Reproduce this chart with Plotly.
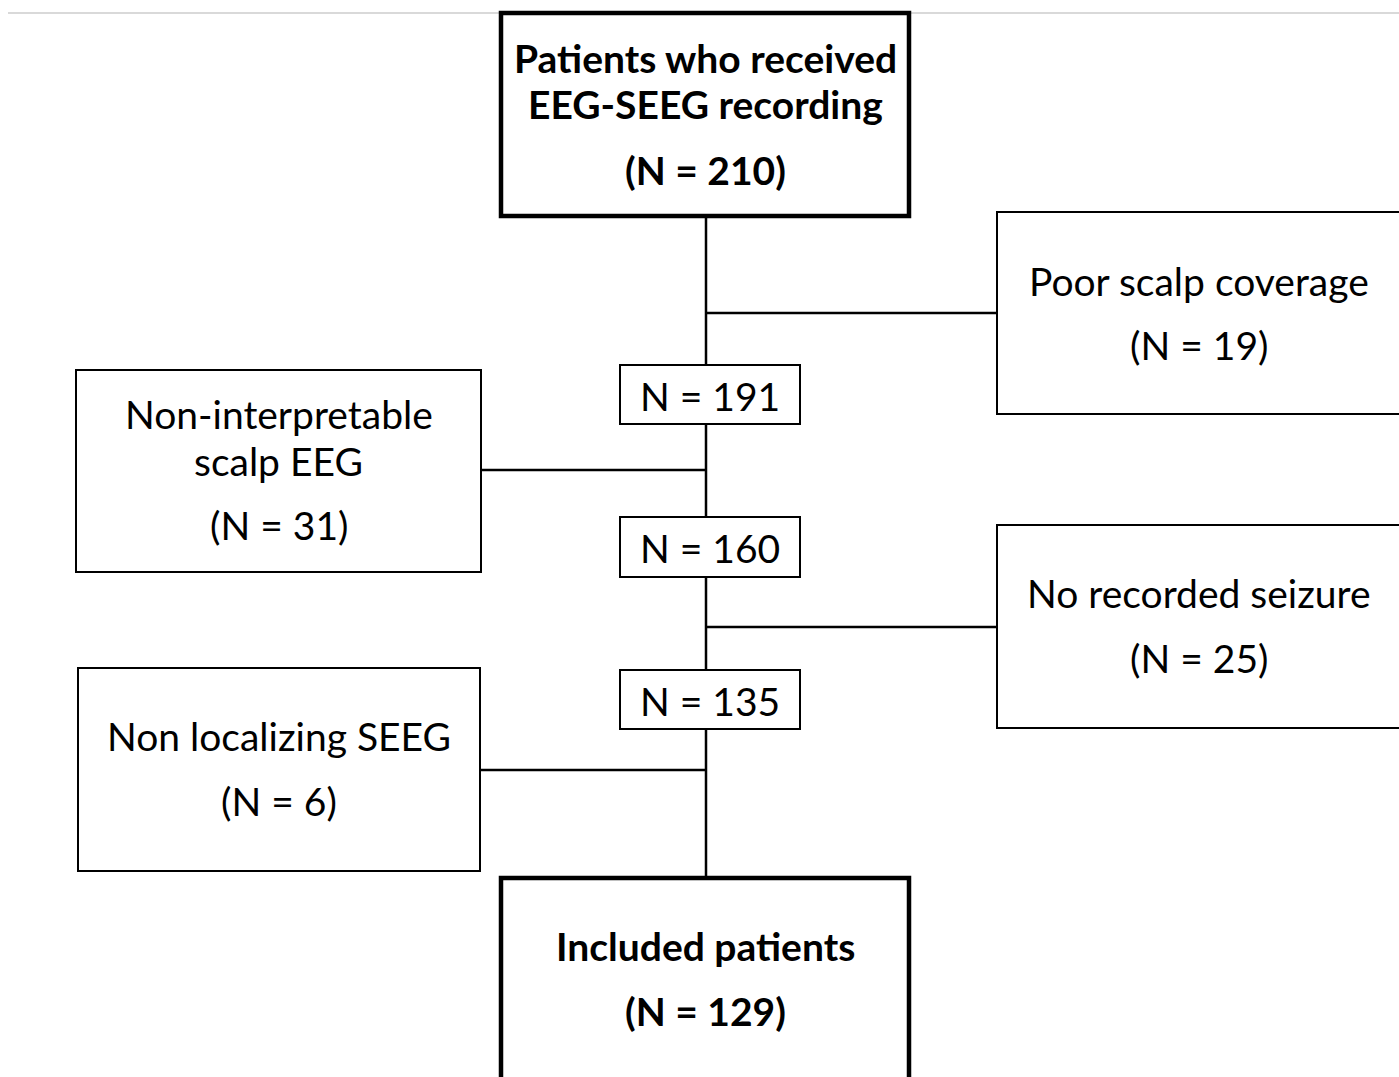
import plotly.graph_objects as go

# ---- data ----
stage_labels = ["Patients who received<br>EEG-SEEG recording", "Included patients"]
stage_counts = [210, 129]
flow_counts = [191, 160, 135]
exclusion_labels = ["Poor scalp coverage", "Non-interpretable<br>scalp EEG",
                    "No recorded seizure", "Non localizing SEEG"]
exclusion_counts = [19, 31, 25, 6]

# ---- layout geometry (page pixels) ----
W, H = 1399, 1077
FONT = "Lato, Open Sans, sans-serif"
FS = 39
stage_boxes = [(501, 13, 909, 216), (501, 878, 909, 1095)]
stage_text_y = [(58, 104), (946,)]
stage_count_y = [170, 1011]
flow_boxes = [(620, 365, 800, 424), (620, 517, 800, 577), (620, 670, 800, 729)]
excl_boxes = [(997, 212, 1420, 414), (76, 370, 481, 572),
              (997, 525, 1420, 728), (78, 668, 480, 871)]
excl_text_y = [(281,), (414, 461), (593,), (736,)]
excl_count_y = [345, 525, 658, 801]
excl_conn_y = [313, 470, 627, 770]
spine_x = 706

fig = go.Figure()
shapes = []
ann = []


def txt(x, y, s, size=FS):
    ann.append(dict(x=x, y=y, text=s, showarrow=False,
                    font=dict(family=FONT, size=size, color="black"),
                    xanchor="center", yanchor="middle"))


# faint rule at top
shapes.append(dict(type="line", x0=8, x1=W + 20, y0=13, y1=13,
                   line=dict(color="#d9d9d9", width=2)))

# spine
shapes.append(dict(type="line", x0=spine_x, x1=spine_x, y0=216, y1=878,
                   line=dict(color="black", width=2.5)))

# connectors
for (x0, y0, x1, y1), cy in zip(excl_boxes, excl_conn_y):
    ex = x0 if x0 > spine_x else x1
    shapes.append(dict(type="line", x0=spine_x, x1=ex, y0=cy, y1=cy,
                       line=dict(color="black", width=2.5)))

# stage boxes (thick, bold)
for i, (x0, y0, x1, y1) in enumerate(stage_boxes):
    shapes.append(dict(type="rect", x0=x0, y0=y0, x1=x1, y1=y1,
                       line=dict(color="black", width=4.5), fillcolor="white"))
    cx = (x0 + x1) / 2
    for line, ly in zip(stage_labels[i].split("<br>"), stage_text_y[i]):
        txt(cx, ly, "<b>" + line + "</b>")
    txt(cx, stage_count_y[i], "<b>(N = %d)</b>" % stage_counts[i])

# flow count boxes
for (x0, y0, x1, y1), n in zip(flow_boxes, flow_counts):
    shapes.append(dict(type="rect", x0=x0, y0=y0, x1=x1, y1=y1,
                       line=dict(color="black", width=2), fillcolor="white"))
    txt((x0 + x1) / 2, (y0 + y1) / 2 + 1, "N = %d" % n)

# exclusion boxes
for (x0, y0, x1, y1), lab, n, tys, ny in zip(excl_boxes, exclusion_labels,
                                              exclusion_counts, excl_text_y, excl_count_y):
    shapes.append(dict(type="rect", x0=x0, y0=y0, x1=x1, y1=y1,
                       line=dict(color="black", width=2), fillcolor="white"))
    cx = (x0 + x1) / 2 if x0 < spine_x else 1199
    for line, ly in zip(lab.split("<br>"), tys):
        txt(cx, ly, line)
    txt(cx, ny, "(N = %d)" % n)

fig.update_layout(
    width=W, height=H, margin=dict(l=0, r=0, t=0, b=0),
    paper_bgcolor="white", plot_bgcolor="white",
    xaxis=dict(range=[0, W], visible=False, fixedrange=True),
    yaxis=dict(range=[H, 0], visible=False, fixedrange=True),
    shapes=shapes, annotations=ann, showlegend=False,
)
fig.write_html("out.html", config={"displayModeBar": False},
               post_script="document.body.style.margin='0';document.body.style.overflow='hidden';")
